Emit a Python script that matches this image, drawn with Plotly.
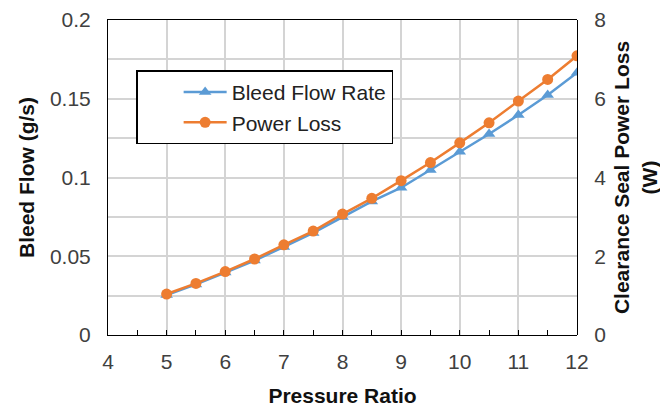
import plotly.graph_objects as go

pressure_ratio = [5, 5.5, 6, 6.5, 7, 7.5, 8, 8.5, 9, 9.5, 10, 10.5, 11, 11.5, 12]
bleed_flow = [0.0254, 0.0321, 0.0397, 0.0473, 0.0559, 0.0648, 0.0749, 0.0848,
              0.0935, 0.1048, 0.1164, 0.1276, 0.1397, 0.1524, 0.1665]
power_loss = [1.04, 1.31, 1.61, 1.93, 2.29, 2.64, 3.07, 3.47,
              3.92, 4.38, 4.88, 5.39, 5.94, 6.49, 7.09]

# tick positions / labels
x_tick_marks = [4, 4.5, 5, 5.5, 6, 6.5, 7, 7.5, 8, 8.5, 9, 9.5, 10, 10.5, 11, 11.5, 12]
y_left_ticks = [0, 0.025, 0.05, 0.075, 0.1, 0.125, 0.15, 0.175, 0.2]
y_left_text = ["0", "", "0.05", "", "0.1", "", "0.15", "", "0.2"]
y_right_ticks = [0, 1, 2, 3, 4, 5, 6, 7, 8]
y_right_text = ["0", "", "2", "", "4", "", "6", "", "8"]

BLUE = "#5b9bd5"
ORANGE = "#ed7d31"
FONT = "Liberation Sans, Arial, sans-serif"
TICK_COLOR = "#404040"
TITLE_COLOR = "#111111"
GRID = "#d4d4d4"
CLEAR = "rgba(0,0,0,0)"
FS = 21
TFS = 21

fig = go.Figure()
fig.add_trace(go.Scatter(
    x=pressure_ratio, y=bleed_flow, name="Bleed Flow Rate", mode="lines+markers",
    line=dict(color=BLUE, width=2.5),
    marker=dict(symbol="triangle-up", size=11, color=BLUE),
    xaxis="x", yaxis="y"))
fig.add_trace(go.Scatter(
    x=pressure_ratio, y=power_loss, name="Power Loss", mode="lines+markers",
    line=dict(color=ORANGE, width=2.5),
    marker=dict(symbol="circle", size=11, color=ORANGE),
    xaxis="x2", yaxis="y2"))

fig.update_layout(
    width=660, height=399,
    margin=dict(l=100, r=91, t=12, b=72, autoexpand=False),
    paper_bgcolor="white", plot_bgcolor=CLEAR,
    font=dict(family=FONT, size=FS, color=TICK_COLOR),
    showlegend=True,
    legend=dict(
        x=0.06, y=0.84, xanchor="left", yanchor="top",
        bgcolor="white", bordercolor="black", borderwidth=1.5,
        font=dict(family=FONT, size=FS, color="#222222"),
        indentation=41, itemwidth=43, tracegroupgap=0,
    ),
    xaxis=dict(
        domain=[0, 1], anchor="y",
        range=[4, 12], dtick=1,
        showgrid=True, gridcolor=GRID, gridwidth=2,
        showline=True, linecolor="black", mirror=True,
        ticks="outside", ticklen=8, tickcolor=CLEAR,
        title=dict(text="<b>Pressure Ratio</b>", font=dict(family=FONT, size=TFS, color=TITLE_COLOR), standoff=16),
    ),
    yaxis=dict(
        domain=[0, 1], anchor="x",
        range=[0, 0.2], tickvals=y_left_ticks, ticktext=y_left_text,
        showgrid=True, gridcolor=GRID, gridwidth=2,
        zerolinecolor="black", zerolinewidth=1,
        showline=True, linecolor="black",
        ticks="outside", ticklen=12, tickcolor=CLEAR,
        title=dict(text="<b>Bleed Flow (g/s)</b>", font=dict(family=FONT, size=TFS, color=TITLE_COLOR), standoff=9),
    ),
    xaxis2=dict(
        domain=[0, 1], anchor="y2", side="bottom", range=[4, 12],
        tickvals=x_tick_marks, showticklabels=False,
        showgrid=False, showline=False,
        ticks="inside", ticklen=5, tickcolor="black",
    ),
    yaxis2=dict(
        domain=[0, 1], anchor="x2", side="right",
        range=[0, 8], tickvals=y_right_ticks, ticktext=y_right_text,
        showgrid=False,
        zerolinecolor="black", zerolinewidth=1,
        showline=True, linecolor="black",
        ticks="outside", ticklen=12, tickcolor=CLEAR,
        title=dict(text="<b>Clearance Seal Power Loss<br>(W)</b>", font=dict(family=FONT, size=TFS, color=TITLE_COLOR), standoff=9),
    ),
)

fig.write_html("out.html")
